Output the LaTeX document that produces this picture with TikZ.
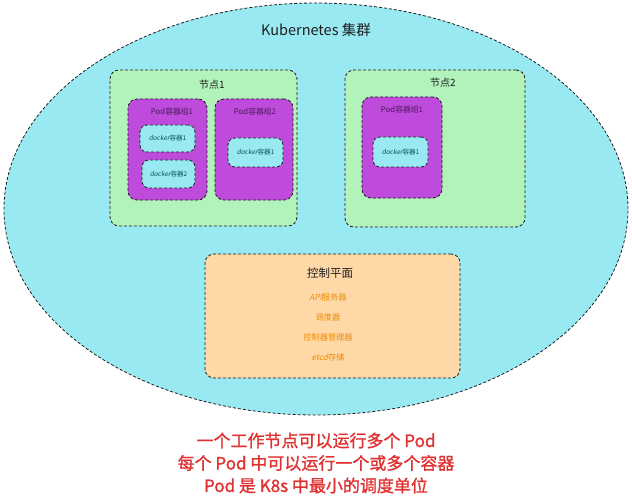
\documentclass[tikz,border=0pt]{standalone}
\usepackage{fontspec}
\setmainfont{Noto Sans CJK SC}
\newfontfamily\slantf[FakeSlant=0.2]{Noto Sans CJK SC}
\newfontfamily\boldishf[FakeBold=1.2]{Noto Sans CJK SC}
\usetikzlibrary{shapes.geometric}
\definecolor{cyanf}{HTML}{99E9F2}
\definecolor{greenf}{HTML}{B2F2BB}
\definecolor{violetf}{HTML}{BE4BDB}
\definecolor{orangef}{HTML}{FFD8A8}
\definecolor{strk}{HTML}{1E1E1E}
\definecolor{orangetxt}{HTML}{F08C00}
\definecolor{redtxt}{HTML}{E03131}
\definecolor{podtxt}{HTML}{4A1A5C}
\definecolor{dockertxt}{HTML}{0B4F5C}
\tikzset{
  dashbox/.style={draw=strk, line width=0.8pt, dash pattern=on 3pt off 2pt, rounded corners=9pt, inner sep=0pt},
  nodebox/.style={dashbox, fill=greenf},
  podbox/.style={dashbox, fill=violetf},
  dockbox/.style={dashbox, fill=cyanf, rounded corners=7pt},
  ctrlbox/.style={dashbox, fill=orangef},
  smalltxt/.style={font=\fontsize{6.5}{8}\selectfont, inner sep=0pt},
  podtitle/.style={font=\fontsize{7.8}{9}\selectfont, text=podtxt, inner sep=0pt},
  ctrlitem/.style={font=\fontsize{8.2}{10}\selectfont, text=orangetxt, inner sep=0pt},
  titletxt/.style={font=\fontsize{10}{12}\selectfont, text=strk, inner sep=0pt},
}
\begin{document}
\begin{tikzpicture}[x=1pt,y=-1pt]
\useasboundingbox (0,0) rectangle (632,500);
% cluster
\node[ellipse, draw=strk, line width=0.8pt, dash pattern=on 3pt off 2pt, fill=cyanf, minimum width=624pt, minimum height=412pt, inner sep=0pt] (cluster) at (316,209) {};
\node[font=\fontsize{14.5}{17}\selectfont, text=strk, inner sep=0pt] (ktitle) at (316,30) {Kubernetes 集群};
% node 1
\node[nodebox, minimum width=187pt, minimum height=156pt] (node1) at (203.5,148) {};
\node[titletxt] (node1t) at (212,85) {节点1};
\node[podbox, minimum width=79pt, minimum height=101pt] (pod11) at (167.5,149.5) {};
\node[podtitle] (pod11t) at (172,112) {Pod容器组1};
\node[dockbox, minimum width=55pt, minimum height=27pt] (d111) at (167.5,138.5) {};
\node[smalltxt, text=dockertxt] (d111t) at (167.5,138.5) {{\slantf docker}容器1};
\node[dockbox, minimum width=53pt, minimum height=28pt] (d112) at (168.5,174) {};
\node[smalltxt, text=dockertxt] (d112t) at (168.5,174) {{\slantf docker}容器2};
\node[podbox, minimum width=78pt, minimum height=101pt] (pod12) at (254,149.5) {};
\node[podtitle] (pod12t) at (255,112) {Pod容器组2};
\node[dockbox, minimum width=55pt, minimum height=29pt] (d121) at (255.5,152.5) {};
\node[smalltxt, text=dockertxt] (d121t) at (255.5,152.5) {{\slantf docker}容器1};
% node 2
\node[nodebox, minimum width=180pt, minimum height=157pt] (node2) at (435,148.5) {};
\node[titletxt] (node2t) at (443,83) {节点2};
\node[podbox, minimum width=80pt, minimum height=101pt] (pod21) at (402,147.5) {};
\node[podtitle] (pod21t) at (402,110) {Pod容器组1};
\node[dockbox, minimum width=55pt, minimum height=30pt] (d211) at (400.5,152) {};
\node[smalltxt, text=dockertxt] (d211t) at (400.5,152) {{\slantf docker}容器1};
% control plane
\node[ctrlbox, minimum width=255pt, minimum height=124pt] (ctrl) at (332.5,316) {};
\node[font=\fontsize{11.5}{13}\selectfont, text=strk, inner sep=0pt] (ctrlt) at (330,273) {控制平面};
\node[ctrlitem] (api) at (328,297) {{\slantf API}服务器};
\node[ctrlitem] (sched) at (328,317) {调度器};
\node[ctrlitem] (cm) at (328,337) {控制器管理器};
\node[ctrlitem] (etcd) at (328,357) {{\slantf etcd}存储};
% bottom text
\node[font=\boldishf\fontsize{17}{22.5}\selectfont, text=redtxt, align=center, inner sep=0pt] (note) at (316,463) {一个工作节点可以运行多个 Pod\\每个 Pod 中可以运行一个或多个容器\\Pod 是 K8s 中最小的调度单位};
\end{tikzpicture}
\end{document}
